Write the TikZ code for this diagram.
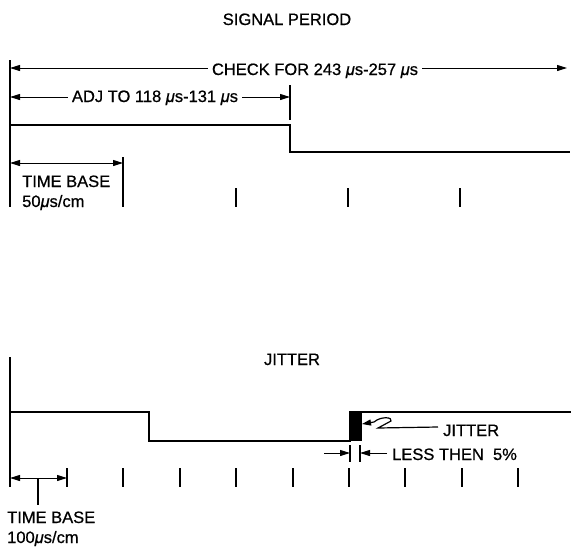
\documentclass[tikz,border=0pt]{standalone}
\usepackage{fontspec}
\setmainfont{Liberation Sans}[FakeBold=0.7]
\usetikzlibrary{arrows.meta}
\tikzset{
	lbl/.style={inner sep=0pt,anchor=base,font=\fontsize{16.5}{19}\selectfont},
	wave/.style={line width=2.6pt,line join=miter},
	tick/.style={line width=1.2pt},
	dim/.style={line width=1pt,-{Triangle[length=10pt,width=6pt]}},
	dimboth/.style={line width=1pt,{Triangle[length=10pt,width=6pt]}-{Triangle[length=10pt,width=6pt]}}
}
\newcommand{\us}{\textit{μ}s}

\begin{document}
\begin{tikzpicture}[x=1pt,y=-1pt]
        \useasboundingbox (0,0) rectangle (571,547);
        \node[lbl] (sig_period) at (287, 25) {SIGNAL PERIOD};
        \node[lbl,inner xsep=4pt] (check_lbl) at (315, 75) {CHECK FOR 243 \us-257 \us};
        \node[lbl,inner xsep=4pt] (adj_lbl) at (155, 102) {ADJ TO 118 \us-131 \us};
        \node[lbl,anchor=base west] (tb1_lbl) at (22, 187) {TIME BASE};
        \node[lbl,anchor=base west] (tb1_val) at (22, 207) {50\us/cm};
        \coordinate (sp_top) at (10, 60);
        \coordinate (sp_bot) at (10, 207);
        \coordinate (check_l) at (10, 68);
        \coordinate (check_r) at (567, 68);
        \coordinate (adj_l) at (10, 97);
        \coordinate (adj_r) at (290, 97);
        \coordinate (adj_t) at (290, 85);
        \coordinate (adj_b) at (290, 120);
        \coordinate (sp_hi_l) at (10, 125);
        \coordinate (sp_hi_r) at (290, 125);
        \coordinate (sp_lo_l) at (290, 152);
        \coordinate (sp_lo_r) at (570, 152);
        \coordinate (tb1_l) at (10, 163);
        \coordinate (tb1_r) at (123, 163);
        \coordinate (tb1_t) at (123, 157);
        \coordinate (tb1_b) at (123, 207);
        \draw[tick] (sp_top) -- (sp_bot);
        \draw[dim] (check_lbl.west |- check_l) -- (check_l);
        \draw[dim] (check_lbl.east |- check_r) -- (check_r);
        \draw[dim] (adj_lbl.west |- adj_l) -- (adj_l);
        \draw[dim] (adj_lbl.east |- adj_r) -- (adj_r);
        \draw[tick] (adj_t) -- (adj_b);
        \draw[wave] (sp_hi_l) -- (sp_hi_r) -- (sp_lo_l) -- (sp_lo_r);
        \draw[dimboth] (tb1_l) -- (tb1_r);
        \draw[tick] (tb1_t) -- (tb1_b);
        \foreach \x in {236, 348, 460}
            \draw[tick] (\x, 188) -- (\x, 207);
        \node[lbl] (jitter_title) at (292, 365) {JITTER};
        \node[lbl,anchor=base west,inner xsep=5pt] (jitter_lbl) at (438, 436) {JITTER};
        \node[lbl,anchor=base west,inner xsep=5pt] (less_lbl) at (387, 460) {LESS THEN\ \ 5\%};
        \node[lbl,anchor=base west] (tb2_lbl) at (7, 523) {TIME BASE};
        \node[lbl,anchor=base west] (tb2_val) at (7, 543) {100\us/cm};
        \coordinate (ji_top) at (10, 357);
        \coordinate (ji_bot) at (10, 487);
        \coordinate (ji_a) at (10, 412);
        \coordinate (ji_b) at (149, 412);
        \coordinate (ji_c) at (149, 441);
        \coordinate (ji_d) at (350, 441);
        \coordinate (ji_e) at (350, 412);
        \coordinate (ji_f) at (571, 412);
        \coordinate (blk_ll) at (350, 441);
        \coordinate (blk_ur) at (362, 412);
        \coordinate (tb2_l) at (10, 478);
        \coordinate (tb2_r) at (67, 478);
        \coordinate (tb2_m) at (38, 478);
        \coordinate (tb2_s) at (38, 505);
        \coordinate (less_l) at (324, 453);
        \coordinate (less_lt) at (350, 453);
        \coordinate (less_rt) at (360, 453);
        \coordinate (leader_tip) at (362, 424);
        \draw[tick] (ji_top) -- (ji_bot);
        \draw[wave] (ji_a) -- (ji_b) -- (ji_c) -- (ji_d) -- (ji_e) -- (ji_f);
        \fill (blk_ll) rectangle (blk_ur);
        \draw[dimboth] (tb2_l) -- (tb2_r);
        \draw[tick] (tb2_m) -- (tb2_s);
        \foreach \x in {67, 123, 180, 236, 293, 349, 405, 462, 518}
            \draw[tick] (\x, 468) -- (\x, 487);
        \draw[tick] (350, 445) -- (350, 462);
        \draw[tick] (360, 445) -- (360, 462);
        \draw[dim] (less_l) -- (less_lt);
        \draw[dim] (less_lbl.west |- less_rt) -- (less_rt);
        \draw[line width=1.2pt,-{Triangle[length=9pt,width=6pt]}] (jitter_lbl.west |- 0,427) -- (378, 428)
            -- (391, 421) .. controls (393, 417) and (381, 416) .. (374, 422) -- (leader_tip);
\end{tikzpicture}
\end{document}
